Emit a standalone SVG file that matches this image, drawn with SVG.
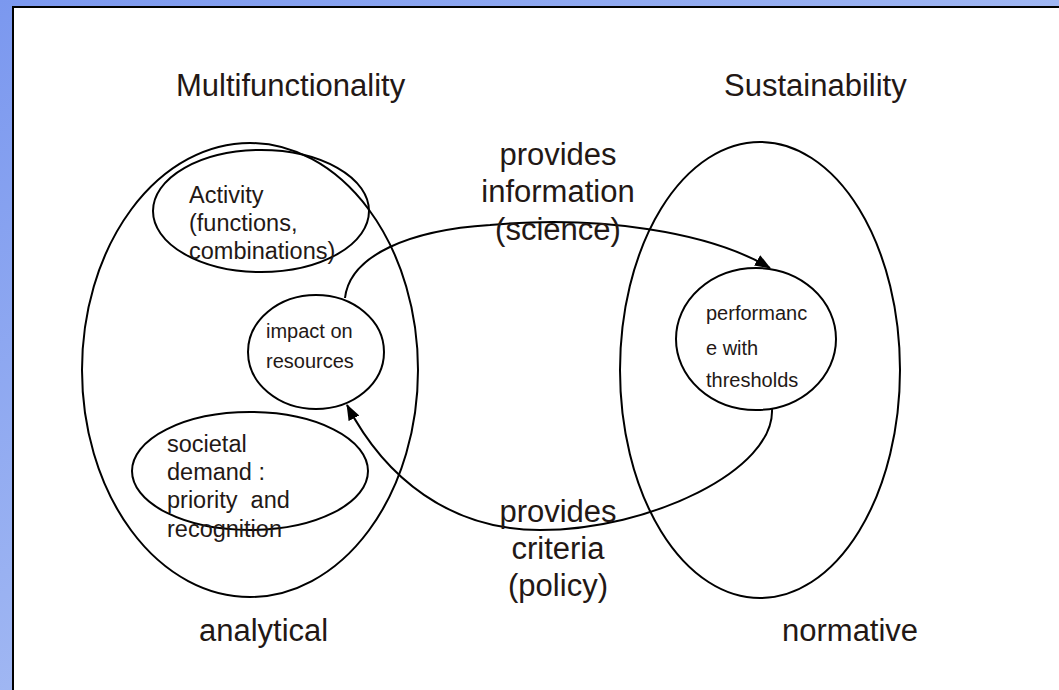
<svg xmlns="http://www.w3.org/2000/svg" width="1059" height="690" viewBox="0 0 1059 690">
<defs>
<linearGradient id="bg" x1="0" y1="0" x2="1" y2="1">
<stop offset="0" stop-color="#7b98ef"/>
<stop offset="1" stop-color="#c3d4f6"/>
</linearGradient>
<marker id="arr" viewBox="0 0 16 12" refX="15" refY="6" markerWidth="16" markerHeight="12" markerUnits="userSpaceOnUse" orient="auto">
<path d="M0,0 L16,6 L0,12 Z" fill="#000"/>
</marker>
<style>
.e{fill:none;stroke:#000;stroke-width:2}
.c{fill:none;stroke:#000;stroke-width:2}
.t{font-family:"Liberation Sans",Arial,sans-serif;fill:#231815}
.big{font-size:31px}
.sm{font-size:23.5px}
.xs{font-size:20px}
</style>
</defs>
<rect width="1059" height="690" fill="url(#bg)"/>
<rect x="13" y="7" width="1060" height="700" fill="#fff" stroke="#000" stroke-width="2"/>
<g id="multifunctionality">
<ellipse class="e" cx="250" cy="370" rx="168" ry="227"/>
<text class="t big" x="176" y="96">Multifunctionality</text>
<text class="t big" x="199" y="641">analytical</text>
</g>
<g id="sustainability">
<ellipse class="e" cx="760" cy="370" rx="140" ry="228"/>
<text class="t big" x="724" y="96">Sustainability</text>
<text class="t big" x="782" y="641">normative</text>
</g>
<g id="activity">
<ellipse class="e" cx="261" cy="211" rx="108" ry="61"/>
<text class="t sm" x="189" y="203">Activity</text>
<text class="t sm" x="189" y="231">(functions,</text>
<text class="t sm" x="189" y="259">combinations)</text>
</g>
<g id="impact">
<ellipse class="e" cx="316" cy="352" rx="68" ry="57"/>
<text class="t xs" x="266" y="338">impact on</text>
<text class="t xs" x="266" y="368">resources</text>
</g>
<g id="societal">
<ellipse class="e" cx="250" cy="471" rx="118" ry="59"/>
<text class="t sm" x="167" y="452">societal</text>
<text class="t sm" x="167" y="480">demand :</text>
<text class="t sm" x="167" y="508" xml:space="preserve">priority  and</text>
<text class="t sm" x="167" y="537">recognition</text>
</g>
<g id="performance">
<ellipse class="e" cx="756" cy="339" rx="80" ry="71"/>
<text class="t xs" x="706" y="320">performanc</text>
<text class="t xs" x="706" y="355">e with</text>
<text class="t xs" x="706" y="387">thresholds</text>
</g>
<g id="connectors">
<path class="c" d="M345,298 C350,255 410,230 490,225 C600,215 710,232 770,268" marker-end="url(#arr)"/>
<path class="c" d="M772,409 C775,470 650,530 540,530 C450,530 385,478 347,405" marker-end="url(#arr)"/>
<text class="t big" x="558" y="165" text-anchor="middle">provides</text>
<text class="t big" x="558" y="202" text-anchor="middle">information</text>
<text class="t big" x="558" y="240" text-anchor="middle">(science)</text>
<text class="t big" x="558" y="522" text-anchor="middle">provides</text>
<text class="t big" x="558" y="559" text-anchor="middle">criteria</text>
<text class="t big" x="558" y="596" text-anchor="middle">(policy)</text>
</g>
</svg>
